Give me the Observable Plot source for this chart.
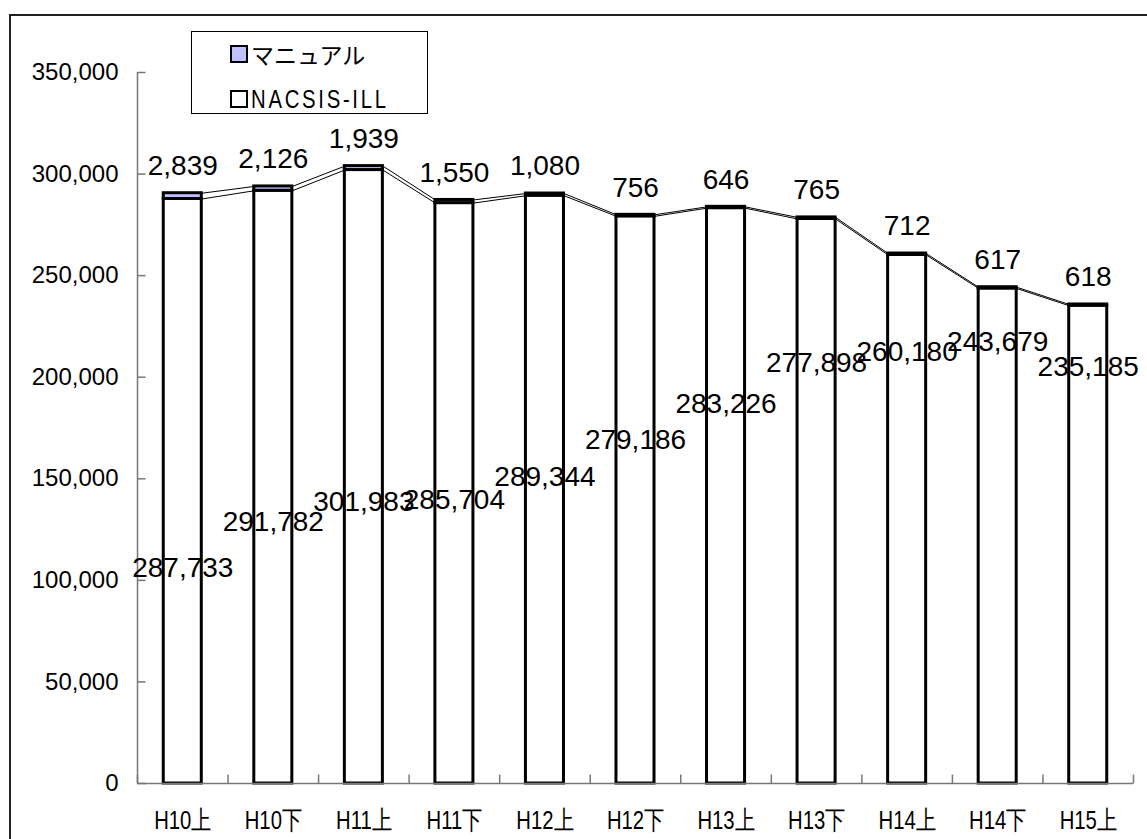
<!DOCTYPE html>
<html>
<head>
<meta charset="utf-8">
<script src="https://cdn.jsdelivr.net/npm/d3@7"></script>
<script src="https://cdn.jsdelivr.net/npm/@observablehq/plot@0.6"></script>
<style>
  html, body { margin: 0; padding: 0; background: #fff; overflow: hidden; }
  #wrap { position: relative; width: 1147px; height: 839px; overflow: hidden; }
  #border { position: absolute; left: 9px; top: 14px; width: 1160px; height: 860px; border: 2px solid #222; box-sizing: border-box; pointer-events: none; }
  #legend { position: absolute; left: 191px; top: 31px; width: 237px; height: 83px; border: 1px solid #000; background: #fff; box-sizing: border-box; font-family: "Liberation Sans", Arial, "Noto Sans CJK JP", sans-serif; }
  .row { position: absolute; left: 38px; height: 28px; display: flex; align-items: center; white-space: nowrap; }
  .sw { width: 14px; height: 14px; border: 2px solid #000; margin-right: 3px; flex: none; }
  .lab1 { font-family: "Noto Sans CJK JP", sans-serif; font-size: 23px; }
  .lab2 { display: inline-block; font-family: "Liberation Sans", Arial, sans-serif; font-size: 26px; letter-spacing: 3.5px; transform: scaleX(0.78); transform-origin: left center; }
</style>
</head>
<body>
<div id="wrap">
  <div id="chart"></div>
  <div id="border"></div>
  <div id="legend">
    <div class="row" style="top:8px"><div class="sw" style="background:#c0c0ff"></div><span class="lab1">マニュアル</span></div>
    <div class="row" style="top:53px"><div class="sw" style="background:#fff"></div><span class="lab2">NACSIS-ILL</span></div>
  </div>
</div>
<script>
const categories = ["H10上","H10下","H11上","H11下","H12上","H12下","H13上","H13下","H14上","H14下","H15上"];
const nacsis = [287733, 291782, 301983, 285704, 289344, 279186, 283226, 277898, 260180, 243679, 235185];
const manual = [2839, 2126, 1939, 1550, 1080, 756, 646, 765, 712, 617, 618];
const yTicks = [0, 50000, 100000, 150000, 200000, 250000, 300000, 350000];
// where the NACSIS-ILL value labels sit (in data units)
const nacsisLabelY = [106300, 128500, 138800, 139300, 151100, 168900, 186600, 206800, 212200, 217100, 205200];

const half = 0.21;
const manualColor = "#c0c0ff";
const axisColor = "#777";
const fmt = d3.format(",");

const rows = categories.map((c, i) => ({
  i, cat: c, nacsis: nacsis[i], manual: manual[i],
  total: nacsis[i] + manual[i], labelY: nacsisLabelY[i]
}));
const links = rows.slice(0, -1).map((r, k) => ({
  x1: r.i + half, x2: rows[k + 1].i - half,
  a1: r.nacsis, a2: rows[k + 1].nacsis,
  b1: r.total, b2: rows[k + 1].total
}));
const bounds = d3.range(categories.length + 1).map(k => k - 0.5);

const tickRight = {draw(ctx) { ctx.moveTo(0, 0); ctx.lineTo(8, 0); }};
const tickUp = {draw(ctx) { ctx.moveTo(0, 0); ctx.lineTo(0, -9); }};

const chart = Plot.plot({
  width: 1147,
  height: 839,
  marginLeft: 137,
  marginRight: 14,
  marginTop: 72,
  marginBottom: 56,
  style: {fontFamily: "'Liberation Sans', Arial, sans-serif", background: "transparent", color: "#000"},
  x: {domain: [bounds[0], bounds[bounds.length - 1]]},
  y: {domain: [yTicks[0], yTicks[yTicks.length - 1]]},
  marks: [
    Plot.rect(rows, {x1: d => d.i - half, x2: d => d.i + half, y1: 0, y2: d => d.nacsis, fill: "#fff", stroke: "#000", strokeWidth: 3}),
    Plot.rect(rows, {x1: d => d.i - half, x2: d => d.i + half, y1: d => d.nacsis, y2: d => d.total, fill: manualColor, stroke: "#000", strokeWidth: 3}),
    Plot.link(links, {x1: "x1", x2: "x2", y1: "a1", y2: "a2", stroke: "#000", strokeWidth: 1}),
    Plot.link(links, {x1: "x1", x2: "x2", y1: "b1", y2: "b2", stroke: "#000", strokeWidth: 1}),
    Plot.ruleY([yTicks[0]], {stroke: axisColor, strokeWidth: 1.5}),
    Plot.ruleX([bounds[0]], {stroke: axisColor, strokeWidth: 1.5}),
    Plot.dot(yTicks, {y: d => d, frameAnchor: "left", symbol: tickRight, stroke: axisColor, strokeWidth: 1.5, fill: "none"}),
    Plot.dot(bounds, {x: d => d, frameAnchor: "bottom", symbol: tickUp, stroke: axisColor, strokeWidth: 1.5, fill: "none"}),
    Plot.axisY(yTicks, {tickSize: 0, tickPadding: 19, tickFormat: fmt, fontSize: 24, label: null, fill: "#000"}),
    Plot.axisX(d3.range(categories.length), {tickSize: 0, tickPadding: 27, tickFormat: i => categories[i], fontSize: 26, label: null, fill: "#000"}),
    Plot.text(rows, {x: "i", y: "total", dy: -27, text: d => fmt(d.manual), fontSize: 28, fill: "#000"}),
    Plot.text(rows, {x: "i", y: "labelY", text: d => fmt(d.nacsis), fontSize: 28, fill: "#000"})
  ]
});
// condense the category labels horizontally, as in the original
d3.select(chart).selectAll("g[aria-label='x-axis tick label'] text").each(function() {
  const t = this.getAttribute("transform") || "";
  this.setAttribute("transform", t + " scale(0.78,1)");
});
document.getElementById("chart").appendChild(chart);
</script>
</body>
</html>
